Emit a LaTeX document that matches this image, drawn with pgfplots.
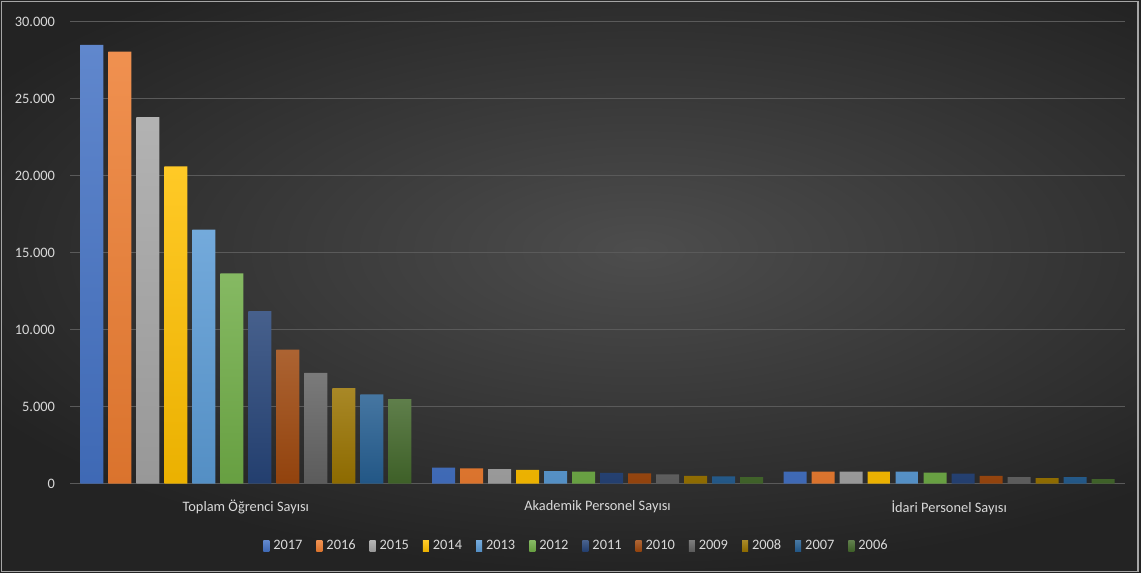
\documentclass[border=0pt]{standalone}
\usepackage{fontspec}
\setmainfont{Carlito}
\usepackage{pgfplots}
\pgfplotsset{compat=1.18}

\definecolor{bgin}{HTML}{4D4D4D}
\definecolor{bgout}{HTML}{232323}
\definecolor{txt}{HTML}{D9D9D9}
\definecolor{gridc}{HTML}{5A5A5A}
\definecolor{c17}{HTML}{4472C4}
\definecolor{c16}{HTML}{ED7D31}
\definecolor{c15}{HTML}{A5A5A5}
\definecolor{c14}{HTML}{FFC000}
\definecolor{c13}{HTML}{5B9BD5}
\definecolor{c12}{HTML}{70AD47}
\definecolor{c11}{HTML}{264478}
\definecolor{c10}{HTML}{9E480E}
\definecolor{c09}{HTML}{636363}
\definecolor{c08}{HTML}{997300}
\definecolor{c07}{HTML}{255E91}
\definecolor{c06}{HTML}{43682B}

\pgfplotsset{
  yr/.style={draw=none, top color=#1!85!white, bottom color=#1!92!black},
}

\begin{document}
\begin{tikzpicture}
% background, 1px = 0.5pt
\begin{scope}
\clip (0,0) rectangle (570.5pt,286.5pt);
\shade[inner color=bgin, outer color=bgout] (-60pt,0pt) rectangle (700pt,323pt);
\end{scope}
\draw[gray!70, line width=0.6pt] (0.6pt,0.6pt) rectangle (569pt,285.6pt);
\useasboundingbox (0,0) rectangle (570.5pt,286.5pt);

\begin{axis}[
  at={(35pt,44.65pt)}, anchor=south west,
  scale only axis,
  width=527.5pt, height=231pt,
  xmin=-0.5, xmax=2.5,
  ymin=0, ymax=30000,
  ybar=2.5pt, bar width=11.5pt,
  axis line style={draw=none},
  tick style={draw=none},
  xtick={0,1,2},
  xticklabels={Toplam Öğrenci Sayısı, Akademik Personel Sayısı, İdari Personel Sayısı},
  ytick={0,5000,10000,15000,20000,25000,30000},
  scaled y ticks=false,
  /pgf/number format/.cd, 1000 sep={.}, assume math mode=true,
  /pgfplots/.cd,
  ymajorgrids,
  major grid style={gridc, line width=0.6pt},
  extra y ticks={0},
  extra y tick labels={},
  extra y tick style={grid style={gray!65, line width=1.1pt}},
  tick label style={font=\fontsize{7.2}{8}\selectfont, text=txt},
  yticklabel style={xshift=-4pt},
  xticklabel style={yshift=-0.5pt},
  legend columns=12,
  legend style={at={(0.481,-0.135)}, anchor=center, draw=none, fill=none,
    text=txt, font=\fontsize{7.2}{8}\selectfont,
    /tikz/every even column/.append style={column sep=5pt}},
  legend image code/.code={\fill[#1] (0pt,-2.6pt) rectangle (3pt,2.6pt);},
]
\addplot[yr=c17] coordinates {(0,28500) (1,1040) (2,780)};
\addplot[yr=c16] coordinates {(0,28050) (1,1000) (2,780)};
\addplot[yr=c15] coordinates {(0,23800) (1,950) (2,780)};
\addplot[yr=c14] coordinates {(0,20600) (1,890) (2,780)};
\addplot[yr=c13] coordinates {(0,16500) (1,820) (2,780)};
\addplot[yr=c12] coordinates {(0,13650) (1,780) (2,720)};
\addplot[yr=c11] coordinates {(0,11200) (1,700) (2,660)};
\addplot[yr=c10] coordinates {(0,8700) (1,670) (2,500)};
\addplot[yr=c09] coordinates {(0,7200) (1,600) (2,430)};
\addplot[yr=c08] coordinates {(0,6200) (1,500) (2,370)};
\addplot[yr=c07] coordinates {(0,5800) (1,470) (2,430)};
\addplot[yr=c06] coordinates {(0,5500) (1,430) (2,300)};
\legend{2017,2016,2015,2014,2013,2012,2011,2010,2009,2008,2007,2006}
\end{axis}
\end{tikzpicture}
\end{document}
